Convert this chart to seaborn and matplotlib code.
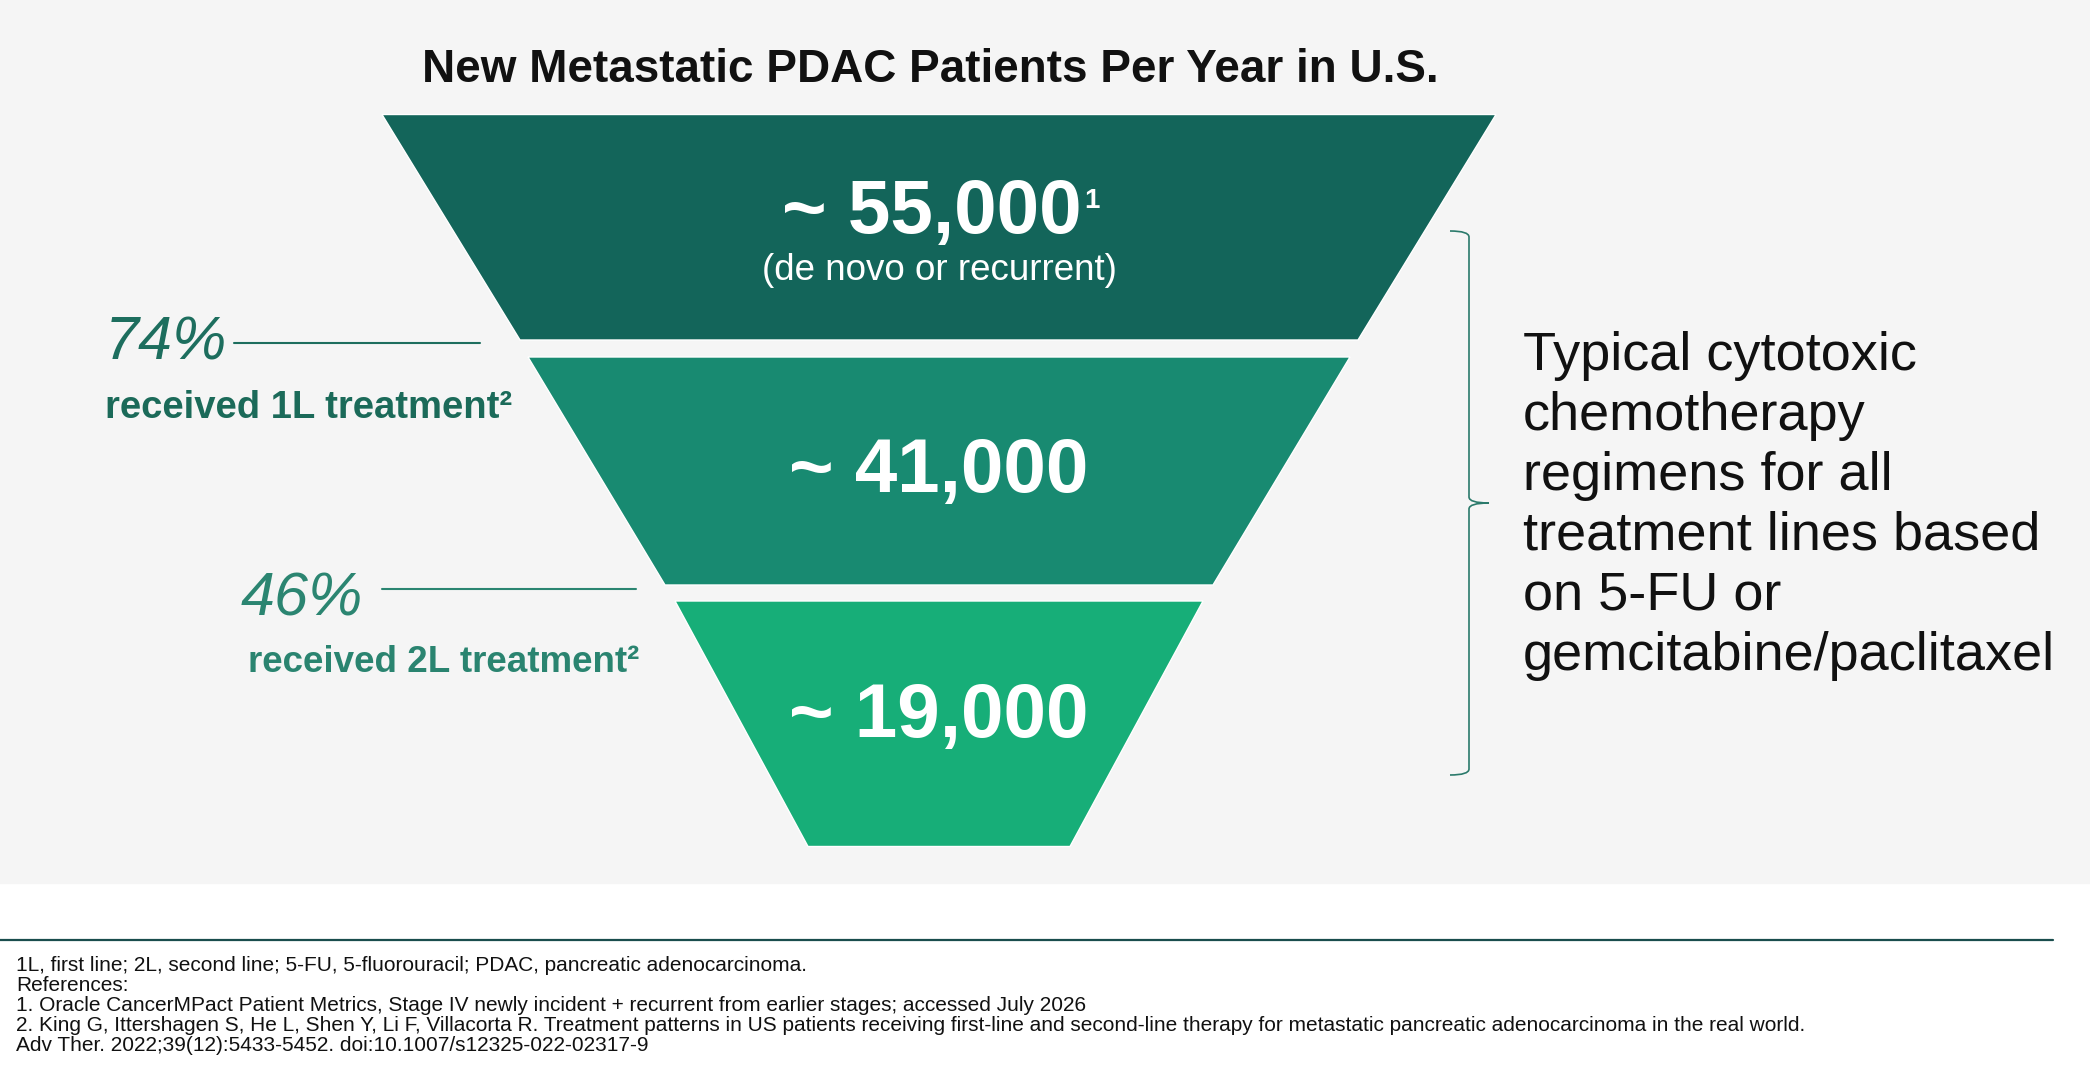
import matplotlib.pyplot as plt
import seaborn as sns
from matplotlib.patches import Polygon, Rectangle, PathPatch
from matplotlib.path import Path

# data
stage_values = [55000, 41000, 19000]
stage_refs = ["1", "", ""]
stage_notes = ["(de novo or recurrent)", "", ""]
drop_pcts = [74, 46]
drop_labels = ["received 1L treatment\u00b2", "received 2L treatment\u00b2"]

title = "New Metastatic PDAC Patients Per Year in U.S."
side_lines = ["Typical cytotoxic", "chemotherapy", "regimens for all",
              "treatment lines based", "on 5-FU or", "gemcitabine/paclitaxel"]
footer_lines = [
    "1L, first line; 2L, second line; 5-FU, 5-fluorouracil; PDAC, pancreatic adenocarcinoma.",
    "References:",
    "1. Oracle CancerMPact Patient Metrics, Stage IV newly incident + recurrent from earlier stages; accessed July 2026",
    "2. King G, Ittershagen S, He L, Shen Y, Li F, Villacorta R. Treatment patterns in US patients receiving first-line and second-line therapy for metastatic pancreatic adenocarcinoma in the real world.",
    "Adv Ther. 2022;39(12):5433-5452. doi:10.1007/s12325-022-02317-9",
]

# styling / layout (pixel space)
stage_colors = ["#13655a", "#188a71", "#17ae78"]
drop_colors = ["#1d6e5e", "#2b8571"]
label_colors = ["#1b6a59", "#2a8470"]
funnel_cx = 939
top_y = [114.5, 357, 601]
bot_y = [340, 585, 846.5]
top_half = [557, 411, 264]
bot_half = [419, 274, 131]
value_base = [233, 492, 737]

sns.set_theme(style="white")
plt.rcParams["font.family"] = ["Liberation Sans", "DejaVu Sans"]

W, H = 2090, 1078
fig = plt.figure(figsize=(W / 100, H / 100), dpi=100)
fig.patch.set_facecolor("white")
ax = fig.add_axes([0, 0, 1, 1])
ax.set_xlim(0, W)
ax.set_ylim(H, 0)
ax.axis("off")

# light panel behind the funnel
ax.add_patch(Rectangle((0, 0), W, 883, color="#f5f5f5", zorder=0))

ax.text(930, 82, title, ha="center", va="baseline", fontsize=33,
        fontweight="bold", color="#111111")

# funnel stages
for i, v in enumerate(stage_values):
    pts = [(funnel_cx - top_half[i], top_y[i]), (funnel_cx + top_half[i], top_y[i]),
           (funnel_cx + bot_half[i], bot_y[i]), (funnel_cx - bot_half[i], bot_y[i])]
    ax.add_patch(Polygon(pts, closed=True, facecolor=stage_colors[i],
                         edgecolor="white", linewidth=1, zorder=2))
    shift = -7 if stage_refs[i] else 0
    t = ax.text(funnel_cx + shift, value_base[i], f"~ {v:,}", ha="center",
                va="baseline", fontsize=55, fontweight="bold", color="white", zorder=3)
    if stage_refs[i]:
        ax.annotate(stage_refs[i], xy=(1, 0.86), xycoords=t, xytext=(2, 0),
                    textcoords="offset points", ha="left", va="top",
                    fontsize=20, fontweight="bold", color="white", zorder=3)
    if stage_notes[i]:
        ax.text(funnel_cx, value_base[i] + 47, stage_notes[i], ha="center",
                va="baseline", fontsize=26.5, color="white", zorder=3)

# drop-off annotations
pct_x = [105, 241]
pct_base = [360, 615]
pct_size = [44, 44]
lead_x = [(234, 480), (382, 636)]
lead_y = [343, 589]
lab_x = [105, 248]
lab_base = [418, 672]
lab_size = [27.5, 26.5]
for i, p in enumerate(drop_pcts):
    ax.text(pct_x[i], pct_base[i], f"{p}%", ha="left", va="baseline",
            fontsize=pct_size[i], style="italic", color=drop_colors[i])
    sns.lineplot(x=list(lead_x[i]), y=[lead_y[i], lead_y[i]], ax=ax,
                 color=drop_colors[i], linewidth=1.5)
    ax.text(lab_x[i], lab_base[i], drop_labels[i], ha="left", va="baseline",
            fontsize=lab_size[i], fontweight="bold", color=label_colors[i])

# curly brace
bx, btop, bbot, bmid = 1469, 231, 775, 503
verts = [(1450, btop), (bx, btop), (bx, btop + 6), (bx, bmid - 6),
         (bx, bmid), (bx + 20, bmid), (bx, bmid), (bx, bmid + 6),
         (bx, bbot - 6), (bx, bbot), (1450, bbot)]
codes = [Path.MOVETO, Path.CURVE3, Path.CURVE3, Path.LINETO,
         Path.CURVE3, Path.CURVE3, Path.CURVE3, Path.CURVE3,
         Path.LINETO, Path.CURVE3, Path.CURVE3]
ax.add_patch(PathPatch(Path(verts, codes), facecolor="none",
                       edgecolor="#2b7a6b", linewidth=1.2, zorder=2))

for i, line in enumerate(side_lines):
    ax.text(1523, 370 + 60 * i, line, ha="left", va="baseline",
            fontsize=39, color="#111111")

# footer
ax.plot([0, 2053], [940, 940], color="#1a4d4d", linewidth=1.6)
for i, line in enumerate(footer_lines):
    ax.text(16, 971 + 20 * i, line, ha="left", va="baseline",
            fontsize=15, color="#111111")

fig.savefig("out.png", dpi=100)
